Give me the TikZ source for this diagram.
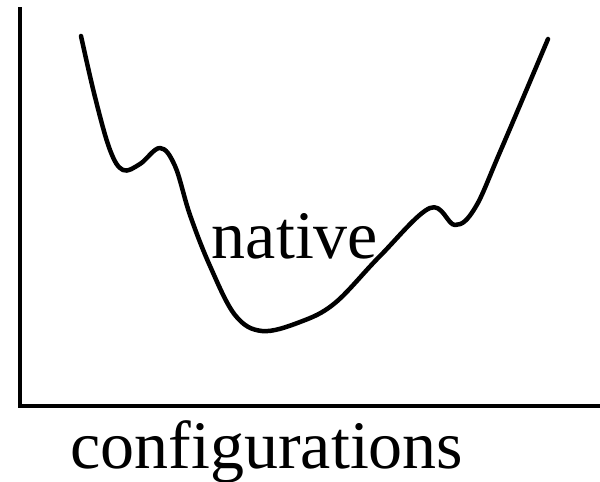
\documentclass[tikz,border=0pt]{standalone}
\usepackage{fontspec}
\setmainfont{Liberation Serif}
\usepackage{tikz}
\usetikzlibrary{positioning}
\tikzset{
  axisline/.style={line width=4.5pt,black},
  landscape/.style={line width=4.5pt,black,line cap=round,line join=round},
  lbl/.style={inner sep=0pt,anchor=base,font=\fontsize{68}{72}\selectfont},
}

\begin{document}
\begin{tikzpicture}[x=1pt,y=-1pt]
  \useasboundingbox (0,0) rectangle (600,482);
  % axes
  \coordinate (top) at (20,7);
  \coordinate (origin) at (20,406);
  \coordinate (right) at (600,406);
  \draw[axisline] (top) -- (origin) -- (right);
  % energy landscape
  \draw[landscape] plot[smooth,tension=0.6] coordinates {
    (81,36) (95,97) (110,150) (123,170) (140,164) (160,148) (175,166)
    (190,215) (210,266) (235,315) (262,331) (300,322) (335,303)
    (380,256) (430,208) (455,225) (475,208) (500,152) (548,39)};
  % labels
  \node[lbl] (native) at (295,258) {native};
  \node[lbl] (xlabel) at (267,468) {configurations};
\end{tikzpicture}
\end{document}
